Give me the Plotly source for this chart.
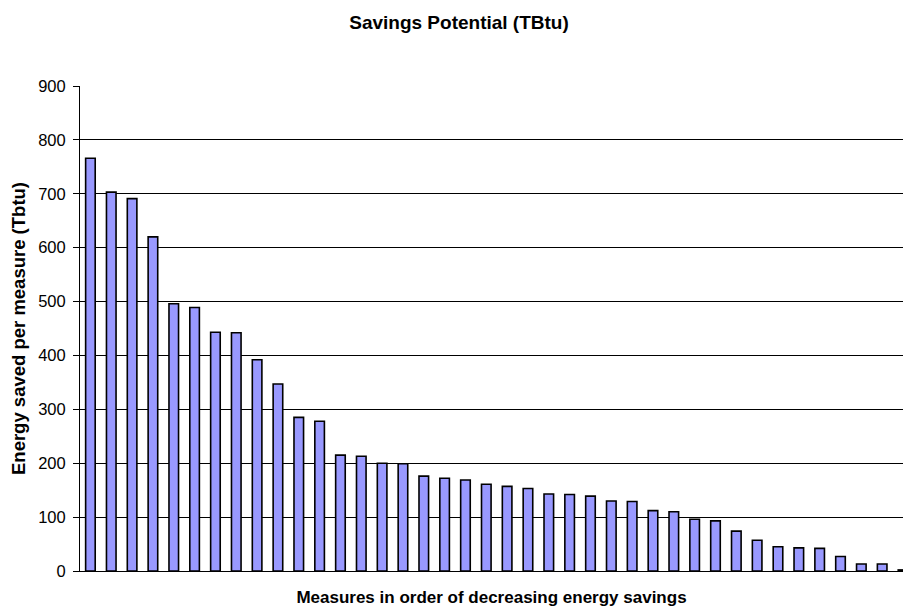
import plotly.graph_objects as go

# Energy savings per measure, sorted from largest to smallest (TBtu)
measures = list(range(1, 41))
savings_tbtu = [
    766, 703, 691, 620, 496, 489, 443, 442, 392, 347,
    285, 278, 215, 213, 200, 199, 176, 172, 169, 161,
    157, 153, 143, 142, 139, 130, 129, 112, 110, 96,
    93, 74, 57, 45, 43, 42, 27, 13, 13, 2,
]
y_ticks = [0, 100, 200, 300, 400, 500, 600, 700, 800, 900]

font_family = "Liberation Sans, Arial, sans-serif"

fig = go.Figure(
    go.Bar(
        x=measures,
        y=savings_tbtu,
        marker=dict(color="#9999FF", line=dict(color="black", width=1.6)),
        width=0.46,
    )
)

fig.update_layout(
    width=903,
    height=611,
    paper_bgcolor="white",
    plot_bgcolor="white",
    margin=dict(l=80, r=0, t=86, b=40),
    font=dict(family=font_family, size=16.5, color="black"),
    showlegend=False,
    title=dict(
        text="<b>Savings Potential (TBtu)</b>",
        x=459 / 903,
        xanchor="center",
        y=1 - 22 / 611,
        yanchor="middle",
        font=dict(size=19),
    ),
)

fig.update_xaxes(
    range=[0.5, 40.0],
    showticklabels=False,
    ticks="",
    showgrid=False,
    showline=True,
    linecolor="black",
    linewidth=1,
    zeroline=False,
    title=dict(
        text="<b>Measures in order of decreasing energy savings</b>",
        font=dict(size=17),
        standoff=20,
    ),
)

fig.update_yaxes(
    range=[0, 900],
    tickvals=y_ticks,
    ticks="outside",
    ticklen=6,
    tickcolor="black",
    ticklabelstandoff=4,
    showgrid=True,
    gridcolor="black",
    gridwidth=1,
    showline=True,
    linecolor="black",
    linewidth=1,
    zeroline=False,
    tickfont=dict(size=16.5),
    title=dict(
        text="<b>Energy saved per measure (Tbtu)</b>",
        font=dict(size=18.5),
        standoff=7,
    ),
)

fig.write_html("out.html")
